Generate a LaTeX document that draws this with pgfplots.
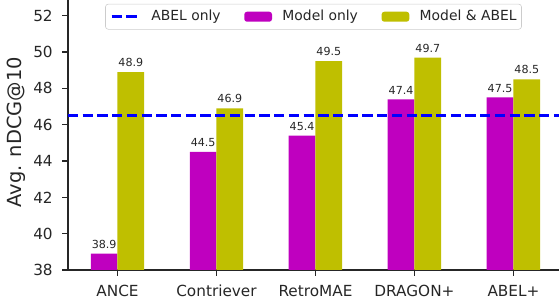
\documentclass[border=0pt]{standalone}
\usepackage{pgfplots}
\pgfplotsset{compat=1.18}
\usepackage{fontspec}
\setmainfont{DejaVu Sans}
\definecolor{cM}{HTML}{BF00BF}
\definecolor{cY}{HTML}{BFBF00}
\definecolor{txt}{HTML}{262626}
\begin{document}
\begin{tikzpicture}
\begin{axis}[
  scale only axis,
  width=353.52pt, height=194.4pt,
  xmin=-0.5, xmax=4.46,
  ymin=38, ymax=52.87,
  axis x line*=bottom, axis y line*=left,
  axis line style={txt, line width=1pt},
  every tick/.style={txt, line width=0.9pt},
  tick align=outside,
  major tick length=4.3pt,
  xtick={0,1,2,3,4},
  xticklabels={ANCE,Contriever,RetroMAE,DRAGON+,ABEL+},
  ytick={38,40,42,44,46,48,50,52},
  /pgf/number format/assume math mode=true,
  tick label style={font=\fontsize{11}{13}\selectfont, text=txt},
  xticklabel style={anchor=north, inner sep=0pt, yshift=-6.5pt},
  yticklabel style={anchor=east, inner sep=0pt, xshift=-6.5pt},
  ylabel={Avg. nDCG@10},
  every axis y label/.style={at={(rel axis cs:0,0.5)}, xshift=-37.4pt, yshift=2pt, rotate=90, anchor=center,
    font=\fontsize{14}{16}\selectfont, text=txt},
  legend columns=3,
  legend style={at={(0.5,1)}, anchor=north, yshift=-2.8pt,
    draw=black!20, rounded corners=2pt, fill=white,
    font=\fontsize{10}{12}\selectfont, text=txt,
    nodes={inner xsep=0pt, inner ysep=1pt},
    /tikz/every odd column/.append style={column sep=7.5pt},
    /tikz/every even column/.append style={column sep=17pt},
    inner xsep=3.5pt, inner ysep=3.5pt},
  legend cell align=left,
  clip=false,
]
\addlegendimage{legend image code/.code={\draw[blue, line width=2pt, dash pattern=on 7.4pt off 3.2pt] (0pt,0pt) -- (20pt,0pt);}}
\addlegendentry{ABEL only}
\addplot[ybar, bar width=0.27, bar shift=0pt, fill=cM, draw=none,
  legend image code/.code={\fill[cM] (0pt,-3.6pt) rectangle (20pt,3.6pt);},
  nodes near coords, every node near coord/.append style={font=\fontsize{8}{9}\selectfont, text=txt, anchor=south, inner sep=0pt, yshift=3.6pt},
  /pgf/number format/.cd, fixed, fixed zerofill, precision=1]
  coordinates {(-0.135,38.9) (0.865,44.5) (1.865,45.4) (2.865,47.4) (3.865,47.5)};
\addlegendentry{Model only}
\addplot[ybar, bar width=0.27, bar shift=0pt, fill=cY, draw=none,
  legend image code/.code={\fill[cY] (0pt,-3.6pt) rectangle (20pt,3.6pt);},
  nodes near coords, every node near coord/.append style={font=\fontsize{8}{9}\selectfont, text=txt, anchor=south, inner sep=0pt, yshift=3.6pt},
  /pgf/number format/.cd, fixed, fixed zerofill, precision=1]
  coordinates {(0.135,48.9) (1.135,46.9) (2.135,49.5) (3.135,49.7) (4.135,48.5)};
\addlegendentry{Model \& ABEL}
\addplot[blue, line width=2pt, dash pattern=on 7.4pt off 3.2pt, forget plot] coordinates {(-0.5,46.5) (4.46,46.5)};
\end{axis}
\pgfresetboundingbox
\path[use as bounding box] (-48.96pt,-27.36pt) rectangle (353.52pt,194.4pt);
\end{tikzpicture}
\end{document}
